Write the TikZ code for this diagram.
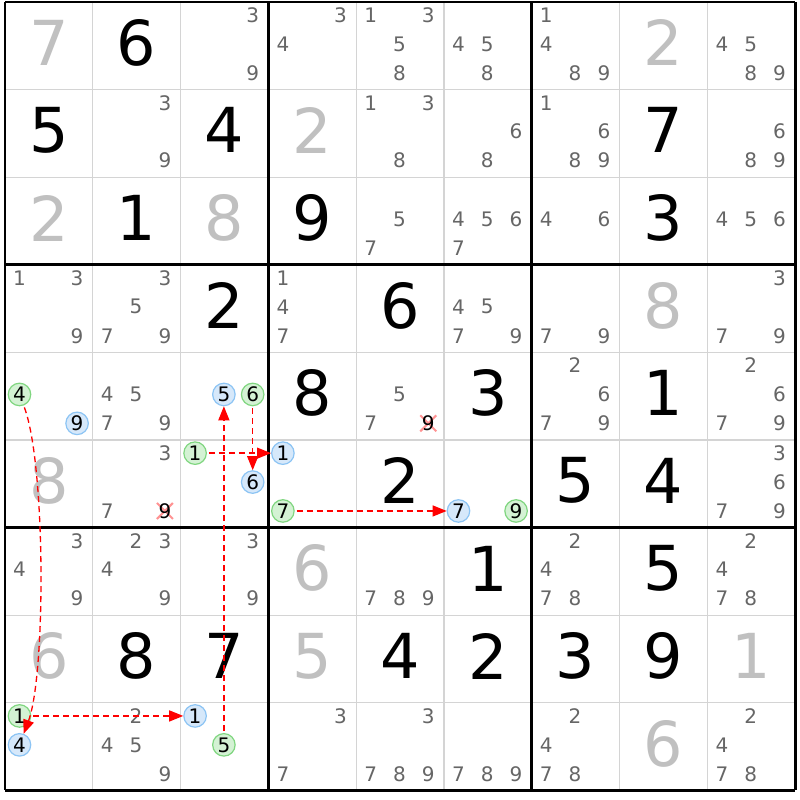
\documentclass[tikz,border=0pt]{standalone}
\usepackage{fontspec}
\setmainfont{DejaVu Sans}
\usetikzlibrary{arrows.meta}

\definecolor{givengray}{HTML}{C0C0C0}
\definecolor{candgray}{HTML}{666666}
\definecolor{thingrid}{HTML}{D4D4D4}
\definecolor{gonfill}{HTML}{D4F2D4}
\definecolor{gonline}{HTML}{80D680}
\definecolor{bonfill}{HTML}{D6E8FA}
\definecolor{bonline}{HTML}{8CC4F4}

% position of candidate #3 in cell (row #1, column #2)
\newcommand{\candat}[3]{({#2-1+0.165+0.328*mod(#3-1,3)},{#1-1+0.15+0.33*int((#3-1)/3)})}
\newcommand{\given}[3]{\node[big] (r#1c#2) at (#2-0.5,#1-0.5) {#3};}
\newcommand{\solved}[3]{\node[big,text=givengray] (r#1c#2) at (#2-0.5,#1-0.5) {#3};}
\newcommand{\cands}[3]{\foreach \k in {#3}{\node[cand] (r#1c#2n\k) at \candat{#1}{#2}{\k} {\k};}}
\newcommand{\candon}[4]{\node[#1] (r#2c#3n#4) at \candat{#2}{#3}{#4} {#4};}
\newcommand{\candx}[3]{\draw[strike] \candat{#1}{#2}{#3} ++(-8pt,-8pt) -- ++(16pt,16pt) ++(0,-16pt) -- ++(-16pt,16pt);
	\node[cand,text=black] (r#1c#2n#3) at \candat{#1}{#2}{#3} {#3};}

\begin{document}
\begin{tikzpicture}[
	big/.style={font=\fontsize{62}{62}\selectfont,yshift=3pt,inner sep=0pt},
	cand/.style={font=\fontsize{20}{20}\selectfont,text=candgray,inner sep=0pt},
	gon/.style={cand,text=black,circle,draw=gonline,fill=gonfill,line width=1.2pt,minimum size=22.5pt},
	bon/.style={cand,text=black,circle,draw=bonline,fill=bonfill,line width=1.2pt,minimum size=22.5pt},
	strike/.style={red!70,opacity=0.6,line width=2pt},
	link/.style={red,line width=1.3pt,dash pattern=on 6pt off 4pt,shorten <=2pt,-{Triangle[length=14pt,width=11pt]}}]
	
	\fill[white] (0,0) rectangle (800pt,-800pt);
	\useasboundingbox (0,0) rectangle (800pt,-800pt);
	
	\begin{scope}[shift={(5pt,-2pt)},x=87.8pt,y=-87.6pt]
		% grid
		\foreach \i in {1,2,4,5,7,8}{
			\draw[thingrid,line width=1.3pt] (\i,0) -- (\i,9);
			\draw[thingrid,line width=1.3pt] (0,\i) -- (9,\i);
		}
		\foreach \i in {0,3,6,9}{
			\draw[black,line width=2.8pt] (\i,0) -- (\i,9);
			\draw[black,line width=2.8pt] (0,\i) -- (9,\i);
		}
		
		% row 1
		\solved{1}{1}{7} \given{1}{2}{6} \cands{1}{3}{3,9}
		\cands{1}{4}{3,4} \cands{1}{5}{1,3,5,8} \cands{1}{6}{4,5,8}
		\cands{1}{7}{1,4,8,9} \solved{1}{8}{2} \cands{1}{9}{4,5,8,9}
		% row 2
		\given{2}{1}{5} \cands{2}{2}{3,9} \given{2}{3}{4}
		\solved{2}{4}{2} \cands{2}{5}{1,3,8} \cands{2}{6}{6,8}
		\cands{2}{7}{1,6,8,9} \given{2}{8}{7} \cands{2}{9}{6,8,9}
		% row 3
		\solved{3}{1}{2} \given{3}{2}{1} \solved{3}{3}{8}
		\given{3}{4}{9} \cands{3}{5}{5,7} \cands{3}{6}{4,5,6,7}
		\cands{3}{7}{4,6} \given{3}{8}{3} \cands{3}{9}{4,5,6}
		% row 4
		\cands{4}{1}{1,3,9} \cands{4}{2}{3,5,7,9} \given{4}{3}{2}
		\cands{4}{4}{1,4,7} \given{4}{5}{6} \cands{4}{6}{4,5,7,9}
		\cands{4}{7}{7,9} \solved{4}{8}{8} \cands{4}{9}{3,7,9}
		% row 5
		\candon{gon}{5}{1}{4} \candon{bon}{5}{1}{9} \cands{5}{2}{4,5,7,9}
		\candon{bon}{5}{3}{5} \candon{gon}{5}{3}{6}
		\given{5}{4}{8} \cands{5}{5}{5,7} \candx{5}{5}{9} \given{5}{6}{3}
		\cands{5}{7}{2,6,7,9} \given{5}{8}{1} \cands{5}{9}{2,6,7,9}
		% row 6
		\solved{6}{1}{8} \cands{6}{2}{3,7} \candx{6}{2}{9}
		\candon{gon}{6}{3}{1} \candon{bon}{6}{3}{6}
		\candon{bon}{6}{4}{1} \candon{gon}{6}{4}{7} \given{6}{5}{2}
		\candon{bon}{6}{6}{7} \candon{gon}{6}{6}{9}
		\given{6}{7}{5} \given{6}{8}{4} \cands{6}{9}{3,6,7,9}
		% row 7
		\cands{7}{1}{3,4,9} \cands{7}{2}{2,3,4,9} \cands{7}{3}{3,9}
		\solved{7}{4}{6} \cands{7}{5}{7,8,9} \given{7}{6}{1}
		\cands{7}{7}{2,4,7,8} \given{7}{8}{5} \cands{7}{9}{2,4,7,8}
		% row 8
		\solved{8}{1}{6} \given{8}{2}{8} \given{8}{3}{7}
		\solved{8}{4}{5} \given{8}{5}{4} \given{8}{6}{2}
		\given{8}{7}{3} \given{8}{8}{9} \solved{8}{9}{1}
		% row 9
		\candon{gon}{9}{1}{1} \candon{bon}{9}{1}{4} \cands{9}{2}{2,4,5,9}
		\candon{bon}{9}{3}{1} \candon{gon}{9}{3}{5}
		\cands{9}{4}{3,7} \cands{9}{5}{3,7,8,9} \cands{9}{6}{7,8,9}
		\cands{9}{7}{2,4,7,8} \solved{9}{8}{6} \cands{9}{9}{2,4,7,8}
		
		% chain
		\draw[link] (r5c1n4) .. controls +(0.3,0.8) and +(0.3,-0.8) .. (r9c1n4);
		\draw[link] (r9c1n1) -- (r9c3n1);
		\draw[link] (r9c3n5) -- (r5c3n5);
		\draw[link] (r6c3n1) -- (r6c4n1);
		\draw[link] (r5c3n6) -- (r6c3n6);
		\draw[link] (r6c4n7) -- (r6c6n7);
	\end{scope}
\end{tikzpicture}
\end{document}
